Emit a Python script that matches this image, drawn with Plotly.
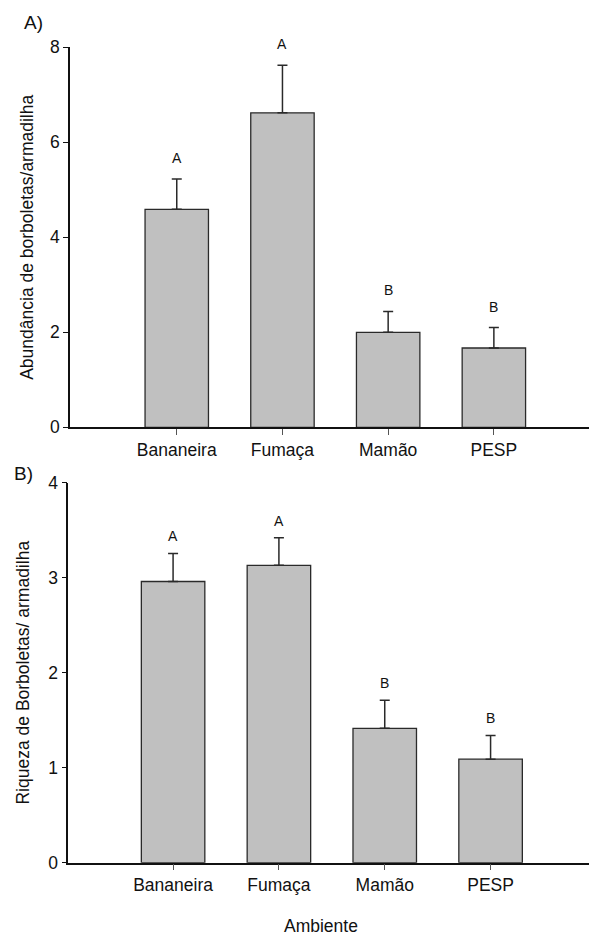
import plotly.graph_objects as go
from plotly.subplots import make_subplots

categories = ["Bananeira", "Fumaça", "Mamão", "PESP"]

abund_mean = [4.59, 6.62, 2.00, 1.67]
abund_se = [0.64, 1.00, 0.44, 0.43]
abund_letters = ["A", "A", "B", "B"]

riq_mean = [2.96, 3.13, 1.415, 1.09]
riq_se = [0.295, 0.29, 0.295, 0.25]
riq_letters = ["A", "A", "B", "B"]

FONT = "Arial, 'Liberation Sans', sans-serif"
W, H = 589, 935
FS = 17.5

fig = make_subplots(rows=2, cols=1)

def add_bars(mean, se, row):
    fig.add_trace(go.Bar(
        x=categories, y=mean, width=0.6,
        marker=dict(color="#c0c0c0", line=dict(color="#2a2a2a", width=1.3)),
        error_y=dict(type="data", array=se, arrayminus=[0]*len(se), symmetric=False,
                     color="#2a2a2a", thickness=1.5, width=5),
        showlegend=False, hoverinfo="skip"), row=row, col=1)

add_bars(abund_mean, abund_se, 1)
add_bars(riq_mean, riq_se, 2)

annotations = []
for cat, m, s, lab in zip(categories, abund_mean, abund_se, abund_letters):
    annotations.append(dict(x=cat, y=m + s, xref="x", yref="y", text=lab, showarrow=False,
                            yshift=21, xanchor="center", yanchor="middle",
                            font=dict(family=FONT, size=14, color="#111")))
for cat, m, s, lab in zip(categories, riq_mean, riq_se, riq_letters):
    annotations.append(dict(x=cat, y=m + s, xref="x2", yref="y2", text=lab, showarrow=False,
                            yshift=17, xanchor="center", yanchor="middle",
                            font=dict(family=FONT, size=14, color="#111")))

def paper_note(text, px, py, size):
    return dict(x=px / W, y=1 - py / H, xref="paper", yref="paper", text=text,
                showarrow=False, xanchor="center", yanchor="middle",
                font=dict(family=FONT, size=size, color="#111"))

annotations.append(paper_note("A)", 33, 22, 19))
annotations.append(paper_note("B)", 23, 473, 19))
annotations.append(paper_note("Ambiente", 321, 926, FS))

axis_common = dict(showline=True, linecolor="#111", linewidth=1.5, showgrid=False, zeroline=False,
                   automargin=False,
                   ticks="outside", tickfont=dict(family=FONT, size=FS, color="#111"))

fig.update_layout(
    width=W, height=H, margin=dict(l=0, r=0, t=0, b=0, autoexpand=False),
    plot_bgcolor="white", paper_bgcolor="white",
    annotations=annotations,
    xaxis=dict(domain=[70 / W, 1], range=[-1.01, 3.90], ticklen=6, tickcolor="#555",
               **axis_common),
    xaxis2=dict(domain=[68.3 / W, 1], range=[-0.99, 3.93], ticklen=6, tickcolor="#555",
                **axis_common),
    yaxis=dict(domain=[1 - 427.3 / H, 1 - 47.3 / H], range=[0, 8], tickvals=[0, 2, 4, 6, 8],
               ticklen=5, tickcolor="#111",
               title=dict(text="Abundância de borboletas/armadilha", standoff=12,
                          font=dict(family=FONT, size=FS, color="#111")),
               **axis_common),
    yaxis2=dict(domain=[1 - 862.7 / H, 1 - 482.7 / H], range=[0, 4], tickvals=[0, 1, 2, 3, 4],
                ticklen=5, tickcolor="#111",
                title=dict(text="Riqueza de Borboletas/ armadilha", standoff=14,
                           font=dict(family=FONT, size=FS, color="#111")),
                **axis_common),
)

fig.write_html("out.html", config={"displayModeBar": False},
               post_script="document.body.style.margin='0';document.body.style.overflow='hidden';")
